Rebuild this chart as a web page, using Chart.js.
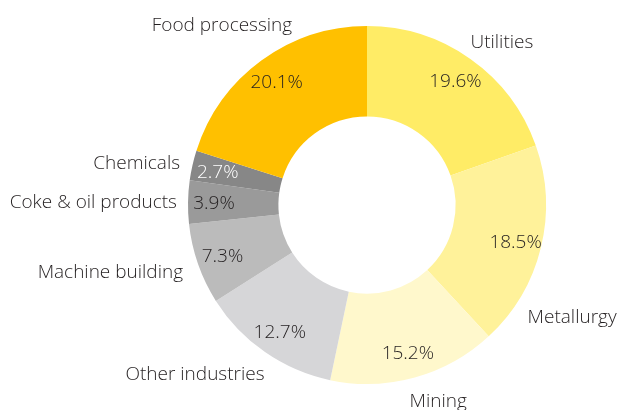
<!DOCTYPE html>
<html>
<head>
<meta charset="utf-8">
<script src="https://cdn.jsdelivr.net/npm/chart.js@4.4.1/dist/chart.umd.min.js"></script>
<style>
  html, body { margin: 0; padding: 0; background: #ffffff; }
  #wrap { width: 619px; height: 410px; position: relative; }
</style>
</head>
<body>
<div id="wrap"><canvas id="c" width="619" height="410"></canvas></div>
<script>
// ---- data ----
const categories = ["Utilities", "Metallurgy", "Mining", "Other industries", "Machine building", "Coke & oil products", "Chemicals", "Food processing"];
const shares = [19.6, 18.5, 15.2, 12.7, 7.3, 3.9, 2.7, 20.1];
const shareLabels = ["19.6%", "18.5%", "15.2%", "12.7%", "7.3%", "3.9%", "2.7%", "20.1%"];

// ---- styling ----
const sliceColors = ["#FFEC66", "#FFF29A", "#FFF8CC", "#D6D6D8", "#BBBBBB", "#9A9A9A", "#878787", "#FFC000"];
const pctTextColors = ["#231F20", "#231F20", "#231F20", "#231F20", "#231F20", "#231F20", "#ffffff", "#231F20"];
// outer label placement: [angle in degrees (canvas), radius factor of outer radius, align]
const labelPlacement = [
  [309.5, 1.185, "center"],
  [28.5, 1.304, "center"],
  [70.0, 1.162, "center"],
  [135.6, 1.345, "center"],
  [160.1, 1.093, "right"],
  [181.1, 1.062, "right"],
  [192.8, 1.071, "right"],
  [231.2, 1.293, "center"]
];
const FONT = "350 19px 'Open Sans', sans-serif";
const CAP_HALF = 6.8;

const labelPlugin = {
  id: "sliceLabels",
  afterDatasetsDraw(chart) {
    const ctx = chart.ctx;
    const meta = chart.getDatasetMeta(0);
    ctx.save();
    ctx.font = FONT;
    ctx.textBaseline = "alphabetic";
    meta.data.forEach((arc, i) => {
      const p = arc.getProps(["x", "y", "startAngle", "endAngle", "innerRadius", "outerRadius"], true);
      const mid = (p.startAngle + p.endAngle) / 2;
      const r = p.outerRadius * 0.855;
      ctx.fillStyle = pctTextColors[i];
      ctx.textAlign = "center";
      ctx.fillText(shareLabels[i], p.x + Math.cos(mid) * r, p.y + Math.sin(mid) * r + CAP_HALF);

      const [deg, f, align] = labelPlacement[i];
      const a = deg * Math.PI / 180;
      ctx.fillStyle = "#231F20";
      ctx.textAlign = align;
      ctx.fillText(categories[i], p.x + Math.cos(a) * p.outerRadius * f, p.y + Math.sin(a) * p.outerRadius * f + CAP_HALF);
    });
    ctx.restore();
  }
};

new Chart(document.getElementById("c"), {
  type: "doughnut",
  data: {
    labels: categories,
    datasets: [{
      data: shares,
      backgroundColor: sliceColors,
      borderWidth: 0,
      hoverOffset: 0,
      offset: 0
    }]
  },
  options: {
    responsive: false,
    animation: false,
    cutout: "49.5%",
    layout: { padding: { left: 188, right: 73, top: 26, bottom: 26 } },
    plugins: { legend: { display: false }, tooltip: { enabled: false } },
    events: []
  },
  plugins: [labelPlugin]
});
</script>
</body>
</html>
